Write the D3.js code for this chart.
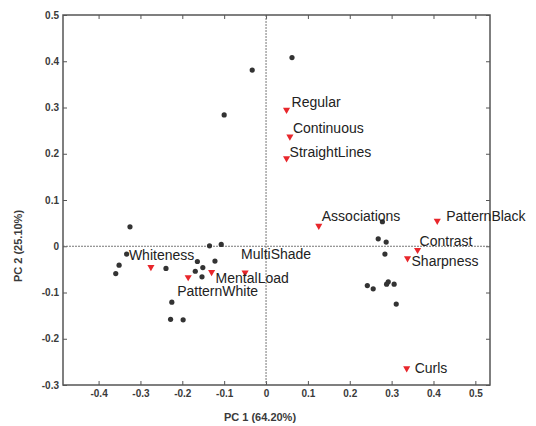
<!DOCTYPE html>
<html>
<head>
<meta charset="utf-8">
<script src="https://cdn.jsdelivr.net/npm/d3@7"></script>
<style>
  html, body { margin: 0; padding: 0; background: #fff; }
  svg { display: block; }
  .tick text { font-family: "Liberation Sans", Arial, sans-serif; font-size: 10px; font-weight: bold; fill: #3a3a3a; }
  .axis path { display: none; }
  .axis line { stroke: #555; stroke-width: 1; }
</style>
</head>
<body>
<svg id="chart" width="536" height="426"></svg>
<script>
// Observation scores (PC1, PC2)
const scoreX = [0.062, -0.033, -0.100, -0.325, -0.333, -0.351, -0.359, -0.239, -0.135, -0.107,
                -0.164, -0.151, -0.122, -0.169, -0.153, -0.225, -0.228, -0.198,
                0.278, 0.268, 0.287, 0.284, 0.242, 0.256, 0.288, 0.292, 0.306, 0.311];
const scoreY = [0.408, 0.381, 0.284, 0.042, -0.017, -0.041, -0.059, -0.048, 0.001, 0.004,
                -0.033, -0.046, -0.032, -0.054, -0.066, -0.121, -0.158, -0.159,
                0.053, 0.016, 0.009, -0.017, -0.085, -0.092, -0.082, -0.077, -0.082, -0.125];

// Variable loadings (PC1, PC2)
const variables = ["Regular", "Continuous", "StraightLines", "Associations", "PatternBlack",
                   "Contrast", "Sharpness", "Curls", "Whiteness", "PatternWhite",
                   "MentalLoad", "MultiShade"];
const loadX = [0.049, 0.057, 0.049, 0.126, 0.409, 0.362, 0.338, 0.336, -0.275, -0.186, -0.130, -0.050];
const loadY = [0.295, 0.237, 0.190, 0.044, 0.055, -0.008, -0.026, -0.264, -0.045, -0.067, -0.056, -0.057];

// Axis ticks
const xTicks = [-0.4, -0.3, -0.2, -0.1, 0, 0.1, 0.2, 0.3, 0.4, 0.5];
const xTickLabels = ["-0.4", "-0.3", "-0.2", "-0.1", "0", "0.1", "0.2", "0.3", "0.4", "0.5"];
const yTicks = [-0.3, -0.2, -0.1, 0, 0.1, 0.2, 0.3, 0.4, 0.5];
const yTickLabels = ["-0.3", "-0.2", "-0.1", "0", "0.1", "0.2", "0.3", "0.4", "0.5"];

const xTitle = "PC 1 (64.20%)";
const yTitle = "PC 2 (25.10%)";

// Label placement around each loading marker (px)
const labelOffset = {
  Regular: [5, -3], Continuous: [3, -4], StraightLines: [3, -1], Associations: [3, -5],
  PatternBlack: [9, 0], Contrast: [2, -4], Sharpness: [4, 8], Curls: [8, 5],
  Whiteness: [-22, -7], PatternWhite: [-11, 19], MentalLoad: [4, 11], MultiShade: [-4, -14]
};

const svg = d3.select("#chart");
const plotL = 63, plotR = 490, plotT = 15, plotB = 385;

const x = d3.scaleLinear().domain([-0.485, 0.535]).range([plotL, plotR]);
const y = d3.scaleLinear().domain([-0.3, 0.5]).range([plotB, plotT]);

const fmt = (labels, ticks) => v => labels[ticks.indexOf(v)];

// Inward ticks on all four sides
svg.append("g").attr("class", "axis").attr("transform", `translate(0,${plotB})`)
  .call(d3.axisBottom(x).tickValues(xTicks).tickFormat(fmt(xTickLabels, xTicks))
    .tickSizeInner(-4).tickSizeOuter(0).tickPadding(5));
svg.append("g").attr("class", "axis").attr("transform", `translate(0,${plotT})`)
  .call(d3.axisTop(x).tickValues(xTicks).tickFormat("").tickSizeInner(-4).tickSizeOuter(0));
svg.append("g").attr("class", "axis").attr("transform", `translate(${plotL},0)`)
  .call(d3.axisLeft(y).tickValues(yTicks).tickFormat(fmt(yTickLabels, yTicks))
    .tickSizeInner(-4).tickSizeOuter(0).tickPadding(4));
svg.append("g").attr("class", "axis").attr("transform", `translate(${plotR},0)`)
  .call(d3.axisRight(y).tickValues(yTicks).tickFormat("").tickSizeInner(-4).tickSizeOuter(0));

// Zero reference lines
svg.append("line")
  .attr("x1", plotL).attr("x2", plotR).attr("y1", y(0)).attr("y2", y(0))
  .attr("stroke", "#777").attr("stroke-width", 1).attr("stroke-dasharray", "2,1");
svg.append("line")
  .attr("x1", x(0)).attr("x2", x(0)).attr("y1", plotT).attr("y2", plotB)
  .attr("stroke", "#777").attr("stroke-width", 1).attr("stroke-dasharray", "2,1");

// Plot frame
svg.append("rect")
  .attr("x", plotL).attr("y", plotT).attr("width", plotR - plotL).attr("height", plotB - plotT)
  .attr("fill", "none").attr("stroke", "#555").attr("stroke-width", 1.5);

// Scores
svg.append("g").selectAll("circle").data(scoreX).join("circle")
  .attr("cx", (d, i) => x(d)).attr("cy", (d, i) => y(scoreY[i]))
  .attr("r", 2.6).attr("fill", "#333");

// Loadings: downward triangles
const tri = d3.symbol().type(d3.symbolTriangle).size(22);
svg.append("g").selectAll("path").data(variables).join("path")
  .attr("d", tri)
  .attr("transform", (d, i) => `translate(${x(loadX[i])},${y(loadY[i])}) rotate(180)`)
  .attr("fill", "#e8262b");

svg.append("g").selectAll("text").data(variables).join("text")
  .attr("x", (d, i) => x(loadX[i]) + labelOffset[d][0])
  .attr("y", (d, i) => y(loadY[i]) + labelOffset[d][1])
  .attr("font-family", "'Liberation Sans', Arial, sans-serif")
  .attr("font-size", 14)
  .attr("fill", "#222")
  .text(d => d);

// Axis titles
svg.append("text")
  .attr("x", 260).attr("y", 421)
  .attr("text-anchor", "middle")
  .attr("font-family", "'Liberation Sans', Arial, sans-serif")
  .attr("font-size", 11).attr("font-weight", "bold").attr("fill", "#3a3a3a")
  .text(xTitle);
svg.append("text")
  .attr("transform", "translate(22,246) rotate(-90)")
  .attr("text-anchor", "middle")
  .attr("font-family", "'Liberation Sans', Arial, sans-serif")
  .attr("font-size", 11).attr("font-weight", "bold").attr("fill", "#3a3a3a")
  .text(yTitle);
</script>
</body>
</html>
